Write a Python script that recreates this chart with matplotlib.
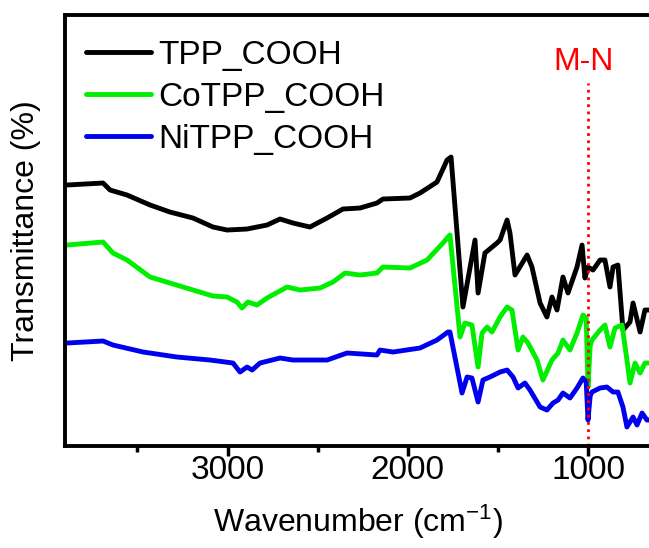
import matplotlib

matplotlib.use("Agg")
import matplotlib.pyplot as plt

plt.rcParams["font.family"] = ["Liberation Sans", "DejaVu Sans"]
plt.rcParams["mathtext.fontset"] = "custom"
plt.rcParams["mathtext.rm"] = "Liberation Sans"
plt.rcParams["mathtext.it"] = "Liberation Sans:italic"

# FTIR spectra, offset vertically (arbitrary transmittance units)
tpp_wn = [3891, 3691, 3652, 3558, 3430, 3320, 3192, 3081, 3003, 2892, 2781, 2709,
          2637, 2543, 2448, 2360, 2265, 2171, 2138, 1988, 1932, 1838, 1782, 1760,
          1694, 1627, 1610, 1572, 1505, 1488, 1449, 1433, 1405, 1338, 1311, 1266,
          1228, 1200, 1172, 1139, 1111, 1061, 1033, 1017, 1000, 972, 933, 906,
          878, 861, 834, 806, 767, 750, 711, 684, 662]
tpp_t = [261, 263, 256, 251, 241, 234, 228, 219, 216, 217, 221, 227,
         223, 219, 228, 237, 238, 243, 247, 248, 253, 264, 286, 289,
         139, 206, 153, 193, 203, 206, 226, 213, 171, 191, 179, 143,
         129, 149, 136, 169, 153, 179, 201, 168, 179, 176, 186, 186,
         159, 179, 181, 116, 124, 143, 114, 136, 136]

co_wn = [3891, 3691, 3636, 3558, 3430, 3320, 3192, 3081, 3003, 2948, 2920, 2887,
         2837, 2781, 2670, 2598, 2487, 2415, 2348, 2265, 2171, 2138, 1988, 1893,
         1805, 1777, 1766, 1710, 1683, 1644, 1610, 1588, 1560, 1533, 1488, 1449,
         1422, 1388, 1361, 1333, 1283, 1250, 1200, 1166, 1139, 1100, 1061, 1028,
         1010, 1000, 988, 978, 933, 906, 878, 850, 811, 784, 767, 739, 711, 684, 662]
co_t = [201, 204, 193, 186, 169, 163, 156, 150, 149, 144, 138, 144,
        141, 148, 159, 156, 158, 164, 173, 171, 173, 179, 178, 186,
        203, 209, 211, 109, 123, 121, 79, 113, 119, 114, 129, 139,
        136, 96, 109, 103, 86, 66, 86, 93, 106, 96, 113, 131,
        128, 59, 100, 106, 116, 121, 99, 118, 121, 86, 63, 83, 73, 83, 83]

ni_wn = [3891, 3691, 3636, 3469, 3281, 3098, 2970, 2931, 2892, 2864, 2820, 2709,
         2637, 2448, 2337, 2171, 2154, 2082, 1932, 1838, 1777, 1766, 1699, 1671,
         1644, 1610, 1583, 1544, 1488, 1449, 1416, 1388, 1350, 1322, 1266, 1228,
         1194, 1166, 1139, 1100, 1061, 1028, 1010, 1000, 988, 978, 933, 895, 861,
         834, 806, 784, 750, 728, 700, 673, 662]
ni_t = [103, 105, 101, 94, 89, 86, 83, 74, 79, 76, 83, 88,
        86, 86, 93, 91, 96, 94, 98, 106, 114, 114, 53, 69,
        68, 44, 66, 69, 74, 76, 69, 58, 63, 56, 39, 36,
        43, 46, 53, 48, 58, 68, 64, 26, 50, 54, 58, 59, 54,
        54, 39, 19, 29, 21, 33, 26, 26]

labels = ["TPP_COOH", "CoTPP_COOH", "NiTPP_COOH"]
colors = ["#000000", "#00ee00", "#0000ee"]
mn_position = 1000
xticks_major = [3000, 2000, 1000]
xticks_minor = [3500, 2500, 1500]

fig = plt.figure(figsize=(6.49, 5.48), dpi=100)
ax = fig.add_axes((0.1002, 0.1861, 0.903, 0.7865))

for wn, t, color, label in zip([tpp_wn, co_wn, ni_wn], [tpp_t, co_t, ni_t], colors, labels):
    ax.plot(wn, t, color=color, lw=3.5, label=label,
            solid_joinstyle="round", solid_capstyle="round")

ax.plot([mn_position, mn_position], [0, 363], color="red", lw=2.0,
        linestyle=(0, (1, 1.6)))
ax.text(mn_position + 22, 384, "M-N", color="red", fontsize=23,
        ha="center", va="center")

ax.set_xlim(3902, 650)
ax.set_ylim(0, 431)
ax.set_xticks(xticks_major)
ax.set_xticks(xticks_minor, minor=True)
ax.set_yticks([])
ax.tick_params(axis="x", which="major", direction="out", length=7.5, width=2.5,
               labelsize=24, pad=-1)
ax.tick_params(axis="x", which="minor", direction="out", length=4.5, width=2.5)
for side in ("left", "bottom", "top"):
    ax.spines[side].set_linewidth(2.8)
ax.spines["right"].set_visible(False)

ax.set_xlabel("Wavenumber (cm$^{-1}$)", fontsize=23, labelpad=12)
ax.set_ylabel("Transmittance (%)", fontsize=23, labelpad=17)

leg = ax.legend(loc="upper left", bbox_to_anchor=(0.036, 0.943), frameon=False,
                fontsize=24, handlelength=1.95, handletextpad=0.2,
                labelspacing=0.33, borderpad=0, borderaxespad=0)
for line in leg.get_lines():
    line.set_linewidth(3.5)

fig.savefig("out.png", dpi=100)
